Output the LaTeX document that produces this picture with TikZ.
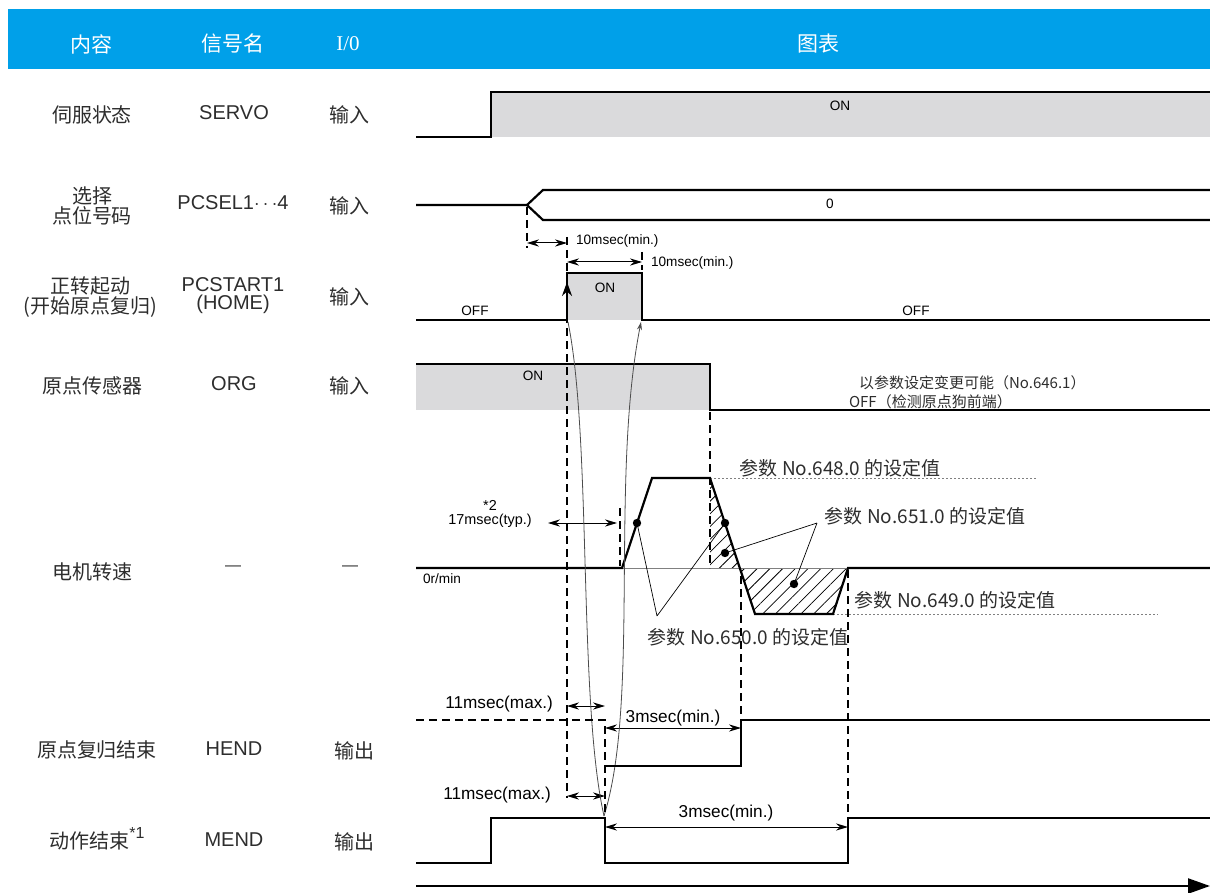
\documentclass[tikz,border=0pt]{standalone}
\usepackage{fontspec}
\setmainfont{Liberation Sans}
\newfontfamily\cjk{Noto Sans CJK SC}
\newfontfamily\headserif{Liberation Serif}
\usetikzlibrary{arrows.meta,patterns.meta}
\definecolor{headblue}{RGB}{0,160,233}
\definecolor{ongray}{RGB}{218,218,220}
\definecolor{txtgray}{RGB}{45,45,45}

\begin{document}
\begin{tikzpicture}[x=0.5pt,y=-0.5pt,
        sig/.style={line width=1.1pt, line join=miter},
        dashv/.style={line width=0.6pt, dash pattern=on 4pt off 2.5pt},
        dashsig/.style={line width=1.1pt, dash pattern=on 4pt off 2.5pt},
        dim/.style={{Stealth[length=6pt,width=3.6pt]}-{Stealth[length=6pt,width=3.6pt]}, line width=0.5pt},
        lead/.style={line width=0.35pt},
        curv/.style={line width=0.4pt, black!70},
        reflevel/.style={line width=0.4pt, gray, dash pattern=on 1pt off 1pt},
        hatch/.style={pattern={Lines[angle=45,distance=4.5pt,line width=0.4pt]}},
        headtxt/.style={white, font=\cjk\fontsize{10.5}{12}\selectfont},
        coltxt/.style={txtgray, font=\cjk\fontsize{10}{10}\selectfont, align=center},
        nametxt/.style={txtgray, font=\fontsize{10}{9}\selectfont, align=center},
        tick/.style={font=\fontsize{6.8}{8}\selectfont},
        timetxt/.style={font=\fontsize{8.6}{10}\selectfont},
        partxt/.style={txtgray, font=\cjk\fontsize{9.5}{10}\selectfont},
        notetxt/.style={txtgray, font=\cjk\fontsize{7.5}{8}\selectfont, anchor=west}]
    \useasboundingbox (0,0) rectangle (1210,893);

    % header bar
    \fill[headblue] (8,9) rectangle (1210,69);
    \node[headtxt] (hcont) at (91,44) {内容};
    \node[headtxt] (hname) at (233,44) {信号名};
    \node[headtxt, font=\headserif\fontsize{10.5}{12}\selectfont] (hio) at (348,44) {I/0};
    \node[headtxt] (hchart) at (818,44) {图表};

    % left columns
    \node[coltxt] (servoc) at (92,115) {伺服状态};
    \node[nametxt] (servon) at (234,113) {SERVO};
    \node[coltxt] (servoio) at (349,115) {输入};
    \node[coltxt] (selc) at (92,206) {选择\\点位号码};
    \node[nametxt] (seln) at (233,203) {PCSEL1$\cdots$4};
    \node[coltxt] (selio) at (349,206) {输入};
    \node[coltxt, font=\cjk\fontsize{10}{9}\selectfont] (startc) at (90,297) {正转起动\\(开始原点复归)};
    \node[nametxt] (startn) at (233,296) {PCSTART1\\(HOME)};
    \node[coltxt] (startio) at (349,297) {输入};
    \node[coltxt] (orgc) at (92,386) {原点传感器};
    \node[nametxt] (orgn) at (234,384) {ORG};
    \node[coltxt] (orgio) at (349,386) {输入};
    \node[coltxt] (motc) at (93,572) {电机转速};
    \node[nametxt, font=\fontsize{8}{8}\selectfont] (motn) at (233,568) {—};
    \node[nametxt, font=\fontsize{8}{8}\selectfont] (motio) at (350,568) {—};
    \node[coltxt] (hendc) at (97,750) {原点复归结束};
    \node[nametxt] (hendn) at (234,749) {HEND};
    \node[coltxt] (hendio) at (354,751) {输出};
    \node[coltxt] (mendc) at (97,839) {动作结束{\rmfamily\fontsize{8}{8}\selectfont\raisebox{5pt}{*1}}};
    \node[nametxt] (mendn) at (234,840) {MEND};
    \node[coltxt] (mendio) at (354,842) {输出};

    % SERVO
    \fill[ongray] (491,92) rectangle (1210,137);
    \draw[sig] (416,137) -- (491,137) -- (491,92) -- (1210,92);
    \node[tick] (servoon) at (840,106) {ON};

    % PCSEL
    \draw[sig] (416,205) -- (527,205) -- (543,190) -- (1210,190);
    \draw[sig] (527,205) -- (543,220) -- (1210,220);
    \node[tick] (selval) at (830,204) {0};

    % PCSTART
    \fill[ongray] (567,273) rectangle (642,320);
    \draw[sig] (416,320) -- (567,320) -- (567,273) -- (642,273) -- (642,320) -- (1210,320);
    \draw[line width=1pt, -{Stealth[length=7pt,width=5pt]}] (567,305) -- (567,282);
    \node[tick] (starton) at (605,288) {ON};
    \node[tick] (startoff1) at (475,311) {OFF};
    \node[tick] (startoff2) at (916,311) {OFF};

    % ORG
    \fill[ongray] (416,364) rectangle (710,410);
    \draw[sig] (416,364) -- (710,364) -- (710,410) -- (1210,410);
    \node[tick] (orgon) at (533,376) {ON};
    \node[notetxt] (orgnote1) at (852,383) {以参数设定变更可能（No.646.1）};
    \node[notetxt] (orgnote2) at (842,402) {OFF（检测原点狗前端）};

    % motor speed
    \fill[hatch] (710,478) -- (740,568) -- (710,568) -- cycle;
    \fill[hatch] (740,568) -- (755,614) -- (833,614) -- (848,568) -- cycle;
    \draw[line width=0.35pt, gray] (622,568) -- (848,568);
    \draw[reflevel] (710,478) -- (1037,478);
    \draw[reflevel] (833,614) -- (1158,614);
    \draw[sig] (416,568) -- (622,568) -- (652,478) -- (710,478) -- (755,614) -- (833,614) -- (848,568) -- (1210,568);
    \node[tick, anchor=west] (zero) at (416,579) {0r/min};
    \node[partxt] (p648) at (840,468) {参数 No.648.0 的设定值};
    \node[partxt] (p651) at (925,516) {参数 No.651.0 的设定值};
    \node[partxt] (p649) at (955,600) {参数 No.649.0 的设定值};
    \node[partxt] (p650) at (748,637) {参数 No.650.0 的设定值};
    \fill (637,523) circle (2.1pt) (725,523) circle (2.1pt) (725,553) circle (2.1pt) (794,584) circle (2.1pt);
    \draw[lead] (657,616) -- (637,523) (657,616) -- (725,523);
    \draw[lead] (817,523) -- (725,553) (817,523) -- (794,584);

    % dashed timing marks
    \draw[dashv] (527,207) -- (527,248);
    \draw[dashv] (567,237) -- (567,798);
    \draw[dashv] (642,252) -- (642,270);
    \draw[dashv] (620,508) -- (620,566);
    \draw[dashv] (710,412) -- (710,568);
    \draw[dashv] (741,576) -- (741,720);
    \draw[dashv] (848,570) -- (848,818);

    % dimensions
    \draw[dim] (527,243) -- (567,243);
    \node[tick, anchor=west] (t10a) at (569,241) {10msec(min.)};
    \draw[dim] (567,262) -- (642,262);
    \node[tick, anchor=west] (t10b) at (644,263) {10msec(min.)};
    \draw[dim] (548,523) -- (617,523);
    \node[tick, font=\fontsize{7.2}{7}\selectfont, align=center] (t17) at (490,514) {*2\\17msec(typ.)};
    \draw[dim] (567,706) -- (605,706);
    \node[timetxt, anchor=east] (t11a) at (560,704) {11msec(max.)};
    \draw[dim] (567,796) -- (605,796);
    \node[timetxt, anchor=east] (t11b) at (558,795) {11msec(max.)};
    \draw[dim] (605,728) -- (741,728);
    \node[timetxt] (t3a) at (673,718) {3msec(min.)};
    \draw[dim] (605,827) -- (848,827);
    \node[timetxt] (t3b) at (726,813) {3msec(min.)};

    % cause curves
    \draw[curv] (568,322) .. controls (592,440) and (578,700) .. (604,816);
    \draw[curv, -{Stealth[length=4pt,width=2.5pt]}] (604,816) .. controls (640,700) and (610,480) .. (641,322);

    % HEND
    \draw[dashsig] (416,720) -- (605,720) -- (605,815);
    \draw[sig] (605,766) -- (741,766) -- (741,720) -- (1210,720);

    % MEND
    \draw[sig] (416,863) -- (491,863) -- (491,818) -- (605,818) -- (605,863) -- (848,863) -- (848,818) -- (1210,818);

    % time axis
    \draw[line width=1.1pt, -{Triangle[length=11pt,width=7.5pt]}] (416,886) -- (1210,886);
\end{tikzpicture}
\end{document}
